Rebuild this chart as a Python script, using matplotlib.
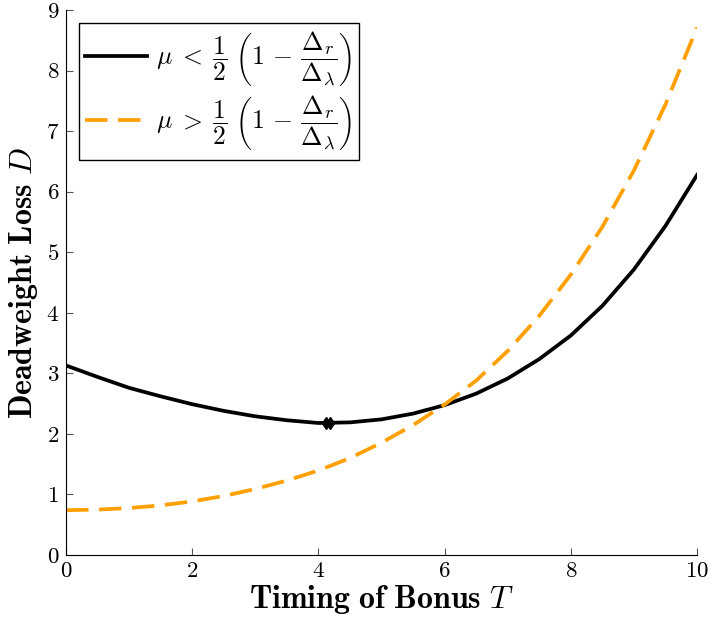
import numpy as np
import matplotlib
matplotlib.use("Agg")
matplotlib.rcParams.update({
    "font.family": "serif",
    "font.serif": ["cmr10"],
    "mathtext.fontset": "cm",
    "axes.formatter.use_mathtext": True,
    "axes.unicode_minus": False,
})
import matplotlib.pyplot as plt

# ── Data ────────────────────────────────────────────────────────────────────
T = [0, 0.5, 1, 1.5, 2, 2.5, 3, 3.5, 4, 4.5, 5, 5.5, 6, 6.5, 7, 7.5, 8, 8.5, 9, 9.5, 10]
D_low = [3.13, 2.94, 2.76, 2.62, 2.49, 2.38, 2.29, 2.225, 2.18, 2.19, 2.24, 2.335,
         2.475, 2.665, 2.915, 3.235, 3.625, 4.115, 4.715, 5.435, 6.275]
D_high = [0.74, 0.75, 0.775, 0.82, 0.885, 0.975, 1.09, 1.23, 1.395, 1.60, 1.855, 2.145,
          2.485, 2.88, 3.37, 3.95, 4.63, 5.42, 6.35, 7.44, 8.71]
# minimum markers on the black curve
T_min = [4.12, 4.18]
D_min = [2.18, 2.18]

lab_low = r"$\mu\;<\;\dfrac{1}{2}\;\left(1\,-\,\dfrac{\Delta_r}{\Delta_\lambda}\right)$"
lab_high = r"$\mu\;>\;\dfrac{1}{2}\;\left(1\,-\,\dfrac{\Delta_r}{\Delta_\lambda}\right)$"

fig = plt.figure(figsize=(7.12, 6.22), dpi=100)
ax = fig.add_axes([0.0927, 0.1077, 0.8863, 0.8763])

ax.plot(T, D_low, color="black", lw=2.7, label=lab_low)
ax.plot(T, D_high, color="#ffa000", lw=2.7, dashes=(6, 2.8), label=lab_high)
ax.plot(T_min, D_min, ls="none", marker="d", ms=6.5, color="black")

ax.set_xlim(0, 10)
ax.set_ylim(0, 9)
ax.set_xticks(range(0, 11, 2))
ax.set_yticks(range(0, 10))
ax.spines["top"].set_visible(False)
ax.spines["right"].set_visible(False)
ax.tick_params(direction="in", length=5, width=0.8, color="#555555", labelsize=16.5, pad=5)

ax.set_xlabel(r"$\mathbf{Timing\ of\ Bonus}\ T$", fontsize=23, labelpad=1)
ax.set_ylabel(r"$\mathbf{Deadweight\ Loss}\ D$", fontsize=23, labelpad=4)

leg = ax.legend(loc="upper left", fontsize=18.5, handlelength=2.4, fancybox=False,
                edgecolor="black", framealpha=1, borderpad=0.25, labelspacing=0.2,
                handletextpad=0.35, borderaxespad=0.5)
leg.get_frame().set_linewidth(1.0)

fig.savefig("out.png", dpi=100)
